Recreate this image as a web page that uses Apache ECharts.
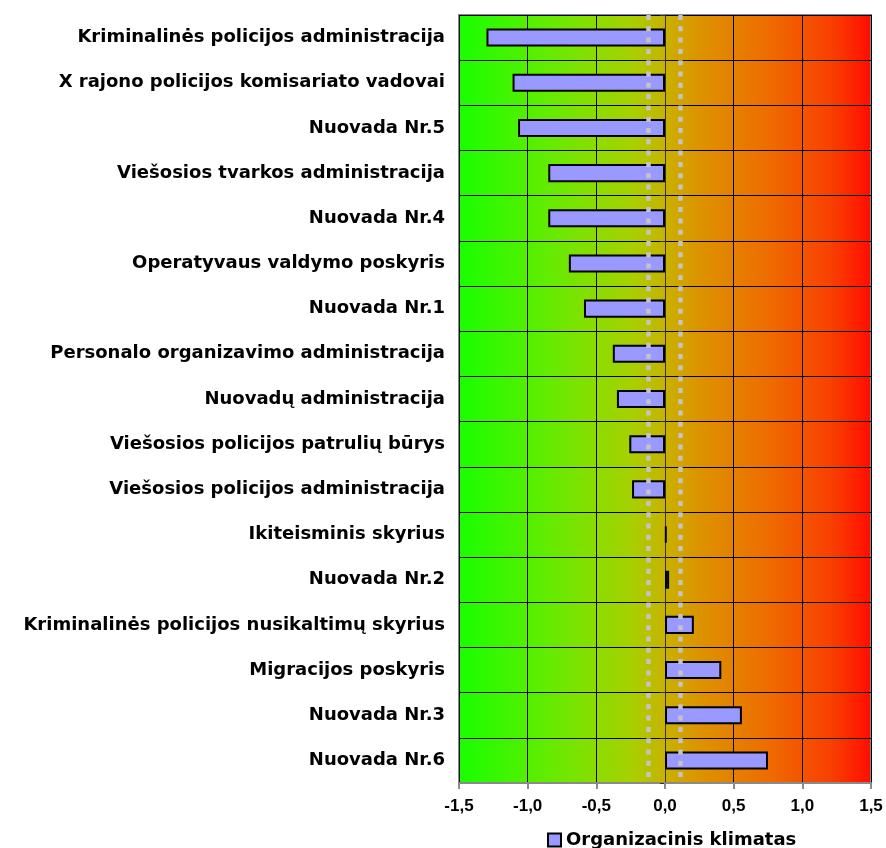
<!DOCTYPE html>
<html>
<head>
<meta charset="utf-8">
<script src="https://cdn.jsdelivr.net/npm/echarts@6/dist/echarts.min.js"></script>
<style>html,body{margin:0;padding:0;background:#fff;}#c{width:886px;height:848px;}</style>
</head>
<body>
<div id="c"></div>
<script>
const categories = [
  'Kriminalinės policijos administracija',
  'X rajono policijos komisariato vadovai',
  'Nuovada Nr.5',
  'Viešosios tvarkos administracija',
  'Nuovada Nr.4',
  'Operatyvaus valdymo poskyris',
  'Nuovada Nr.1',
  'Personalo organizavimo administracija',
  'Nuovadų administracija',
  'Viešosios policijos patrulių būrys',
  'Viešosios policijos administracija',
  'Ikiteisminis skyrius',
  'Nuovada Nr.2',
  'Kriminalinės policijos nusikaltimų skyrius',
  'Migracijos poskyris',
  'Nuovada Nr.3',
  'Nuovada Nr.6'
];
const klimatas = [-1.30, -1.11, -1.07, -0.85, -0.85, -0.70, -0.59, -0.38, -0.35, -0.26, -0.24, 0.012, 0.03, 0.21, 0.41, 0.56, 0.75];
const seriesName = 'Organizacinis klimatas';
const referenceLines = [-0.12, 0.11];
const xMin = -1.5, xMax = 1.5, xStep = 0.5;

const chart = echarts.init(document.getElementById('c'), null, {renderer: 'canvas'});
chart.setOption({
  animation: false,
  backgroundColor: '#ffffff',
  grid: {
    left: 459, right: 15, top: 15, bottom: 65,
    show: true,
    borderColor: '#8a8a8a',
    borderWidth: 2,
    backgroundColor: {
      type: 'linear', x: 0, y: 0, x2: 1, y2: 0,
      colorStops: [
        {offset: 0, color: '#18ff00'},
        {offset: 0.25, color: '#6ee800'},
        {offset: 0.42, color: '#a8d000'},
        {offset: 0.5, color: '#c8b200'},
        {offset: 0.58, color: '#dc9400'},
        {offset: 0.75, color: '#ee6c00'},
        {offset: 0.9, color: '#f84000'},
        {offset: 1, color: '#ff0c00'}
      ]
    }
  },
  legend: {
    data: [seriesName],
    left: 542, top: 826,
    icon: 'rect',
    itemWidth: 13, itemHeight: 13,
    itemGap: 6,
    textStyle: {fontFamily: 'DejaVu Sans', fontWeight: 'bold', fontSize: 18, color: '#000'}
  },
  xAxis: {
    type: 'value',
    min: xMin, max: xMax, interval: xStep,
    axisLine: {show: true, onZero: false, lineStyle: {color: '#8a8a8a', width: 2}},
    axisTick: {show: true, length: 6, lineStyle: {color: '#8a8a8a', width: 2}},
    splitLine: {show: true, lineStyle: {color: '#000', width: 1}},
    axisLabel: {
      margin: 15,
      fontFamily: 'Liberation Sans', fontWeight: 'bold', fontSize: 17, color: '#000',
      formatter: v => v.toFixed(1).replace('.', ',')
    }
  },
  yAxis: [
    {
      type: 'category',
      data: categories,
      inverse: true,
      axisLine: {show: false, onZero: false},
      axisTick: {show: false},
      splitLine: {show: true, lineStyle: {color: '#000', width: 1}},
      axisLabel: {
        margin: 14,
        fontFamily: 'DejaVu Sans', fontWeight: 'bold', fontSize: 18, color: '#000'
      }
    },
    {
      type: 'category',
      data: categories,
      inverse: true,
      position: 'left',
      axisLine: {show: true, onZero: true, lineStyle: {color: '#333', width: 1}},
      axisTick: {show: true, length: 5, lineStyle: {color: '#333'}},
      axisLabel: {show: false},
      splitLine: {show: false}
    }
  ],
  series: [
    {
      name: seriesName,
      type: 'bar',
      yAxisIndex: 0,
      data: klimatas,
      barWidth: '40%',
      itemStyle: {color: '#9999ff', borderColor: '#000', borderWidth: 2},
      markLine: {
        silent: true,
        symbol: 'none',
        label: {show: false},
        lineStyle: {color: '#c4c4c4', width: 4.5, type: [5, 6.3]},
        data: referenceLines.map(v => ({xAxis: v}))
      }
    }
  ]
});
</script>
</body>
</html>
